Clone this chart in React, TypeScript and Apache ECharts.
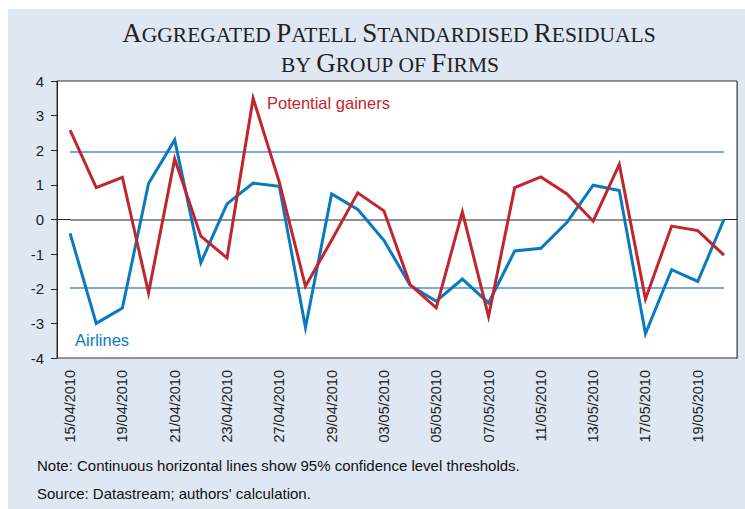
import React, { useEffect, useRef } from "react";
import * as echarts from "echarts";

const CATEGORIES = [
  "15/04/2010", "16/04/2010", "19/04/2010", "20/04/2010", "21/04/2010", "22/04/2010",
  "23/04/2010", "26/04/2010", "27/04/2010", "28/04/2010", "29/04/2010", "30/04/2010",
  "03/05/2010", "04/05/2010", "05/05/2010", "06/05/2010", "07/05/2010", "10/05/2010",
  "11/05/2010", "12/05/2010", "13/05/2010", "14/05/2010", "17/05/2010", "18/05/2010",
  "19/05/2010", "20/05/2010",
];

const AIRLINES = [
  -0.4, -3.0, -2.56, 1.04, 2.3, -1.25, 0.45, 1.05, 0.96, -3.12, 0.74, 0.29, -0.6,
  -1.9, -2.36, -1.72, -2.41, -0.91, -0.83, -0.08, 0.99, 0.84, -3.3, -1.45, -1.79, 0.0,
];

const POTENTIAL_GAINERS = [
  2.58, 0.92, 1.22, -2.12, 1.75, -0.48, -1.11, 3.5, 1.08, -1.93, -0.6, 0.77, 0.25,
  -1.88, -2.55, 0.22, -2.8, 0.92, 1.23, 0.74, -0.05, 1.59, -2.3, -0.19, -0.32, -1.03,
];

const THRESHOLD = 1.96;
const Y_TICKS = [-4, -3, -2, -1, 0, 1, 2, 3, 4];

const TITLE_LINE_1 = "Aggregated Patell Standardised Residuals";
const TITLE_LINE_2 = "by Group of Firms";
const NOTE = "Note: Continuous horizontal lines show 95% confidence level thresholds.";
const SOURCE = "Source: Datastream; authors' calculation.";

const RED = "#c0262e";
const BLUE = "#0a7ac0";

function smallCaps(s: string): string {
  return s
    .split(" ")
    .map((w) => {
      const first = w[0];
      const rest = w.slice(1).toUpperCase();
      if (first === first.toUpperCase()) {
        return `{b|${first}}` + (rest ? `{s|${rest}}` : "");
      }
      return `{s|${w.toUpperCase()}}`;
    })
    .join("{s| }");
}

export default function App() {
  const ref = useRef<HTMLDivElement>(null);
  useEffect(() => {
    if (!ref.current) return;
    const chart = echarts.init(ref.current, undefined, { renderer: "svg" });
    const last = CATEGORIES.length - 1;
    const titleRich = {
      b: { fontSize: 27, fontFamily: "Liberation Serif", fill: "#222", verticalAlign: "bottom" },
      s: { fontSize: 21.5, fontFamily: "Liberation Serif", fill: "#222", verticalAlign: "bottom" },
    };
    chart.setOption({
      animation: false,
      backgroundColor: "transparent",
      grid: {
        left: 57,
        right: 8,
        top: 81,
        bottom: 151,
        show: true,
        backgroundColor: "#ffffff",
        borderColor: "#333",
        borderWidth: 1,
      },
      xAxis: {
        type: "category",
        data: CATEGORIES,
        boundaryGap: true,
        axisLine: { lineStyle: { color: "#222", width: 1 } },
        axisTick: { interval: 0, length: 5, lineStyle: { color: "#222" } },
        axisLabel: {
          interval: 1,
          rotate: 90,
          margin: 12,
          fontSize: 14.5,
          fontFamily: "Liberation Sans",
          color: "#222",
        },
        splitLine: { show: false },
      },
      yAxis: {
        type: "value",
        min: Y_TICKS[0],
        max: Y_TICKS[Y_TICKS.length - 1],
        interval: 1,
        axisLine: { show: true, lineStyle: { color: "#222", width: 1 } },
        axisTick: { show: true, length: 6, lineStyle: { color: "#222" } },
        axisLabel: {
          margin: 13,
          fontSize: 15,
          fontFamily: "Liberation Sans",
          color: "#222",
        },
        splitLine: { show: false },
      },
      series: [
        {
          name: "Airlines",
          type: "line",
          data: AIRLINES,
          symbol: "none",
          z: 3,
          lineStyle: { color: BLUE, width: 3, join: "miter", miterLimit: 8 },
          markLine: {
            silent: true,
            symbol: "none",
            z: 1,
            label: { show: false },
            data: [
              [
                { coord: [0, THRESHOLD], lineStyle: { color: "#78a9d7", width: 2.2, type: "solid" } },
                { coord: [last, THRESHOLD] },
              ],
              [
                { coord: [0, -THRESHOLD], lineStyle: { color: "#78a9d7", width: 2.2, type: "solid" } },
                { coord: [last, -THRESHOLD] },
              ],
              [
                { coord: [0, 0], lineStyle: { color: "#8b9097", width: 2.2, type: "solid" } },
                { coord: [last, 0] },
              ],
            ],
          },
        },
        {
          name: "Potential gainers",
          type: "line",
          data: POTENTIAL_GAINERS,
          symbol: "none",
          z: 4,
          lineStyle: { color: RED, width: 3, join: "miter", miterLimit: 8 },
        },
      ],
      graphic: [
        {
          type: "text",
          x: 389,
          y: 19,
          style: { text: smallCaps(TITLE_LINE_1), align: "center", verticalAlign: "top", rich: titleRich },
        },
        {
          type: "text",
          x: 390,
          y: 49,
          style: { text: smallCaps(TITLE_LINE_2), align: "center", verticalAlign: "top", rich: titleRich },
        },
        {
          type: "text",
          x: 267,
          y: 102.5,
          style: {
            text: "Potential gainers",
            fill: RED,
            font: "16.5px 'Liberation Sans'",
            align: "left",
            verticalAlign: "middle",
          },
        },
        {
          type: "text",
          x: 75,
          y: 340,
          style: {
            text: "Airlines",
            fill: BLUE,
            font: "16.5px 'Liberation Sans'",
            align: "left",
            verticalAlign: "middle",
          },
        },
        {
          type: "text",
          x: 37,
          y: 465,
          style: { text: NOTE, fill: "#111", font: "15px 'Liberation Sans'", align: "left", verticalAlign: "middle" },
        },
        {
          type: "text",
          x: 37,
          y: 493,
          style: { text: SOURCE, fill: "#111", font: "15px 'Liberation Sans'", align: "left", verticalAlign: "middle" },
        },
      ],
    });
    return () => chart.dispose();
  }, []);

  return (
    <div style={{ position: "fixed", left: 0, top: 0, width: 745, height: 509, background: "#ffffff" }}>
      <div
        style={{ position: "absolute", left: 8, top: 9, width: 737, height: 500, background: "#dfe7f2" }}
      />
      <div style={{ position: "absolute", left: 736, top: 81, width: 2, height: 278, background: "#9a9fa6" }} />
      <div ref={ref} style={{ position: "absolute", left: 0, top: 0, width: 745, height: 509 }} />
    </div>
  );
}
